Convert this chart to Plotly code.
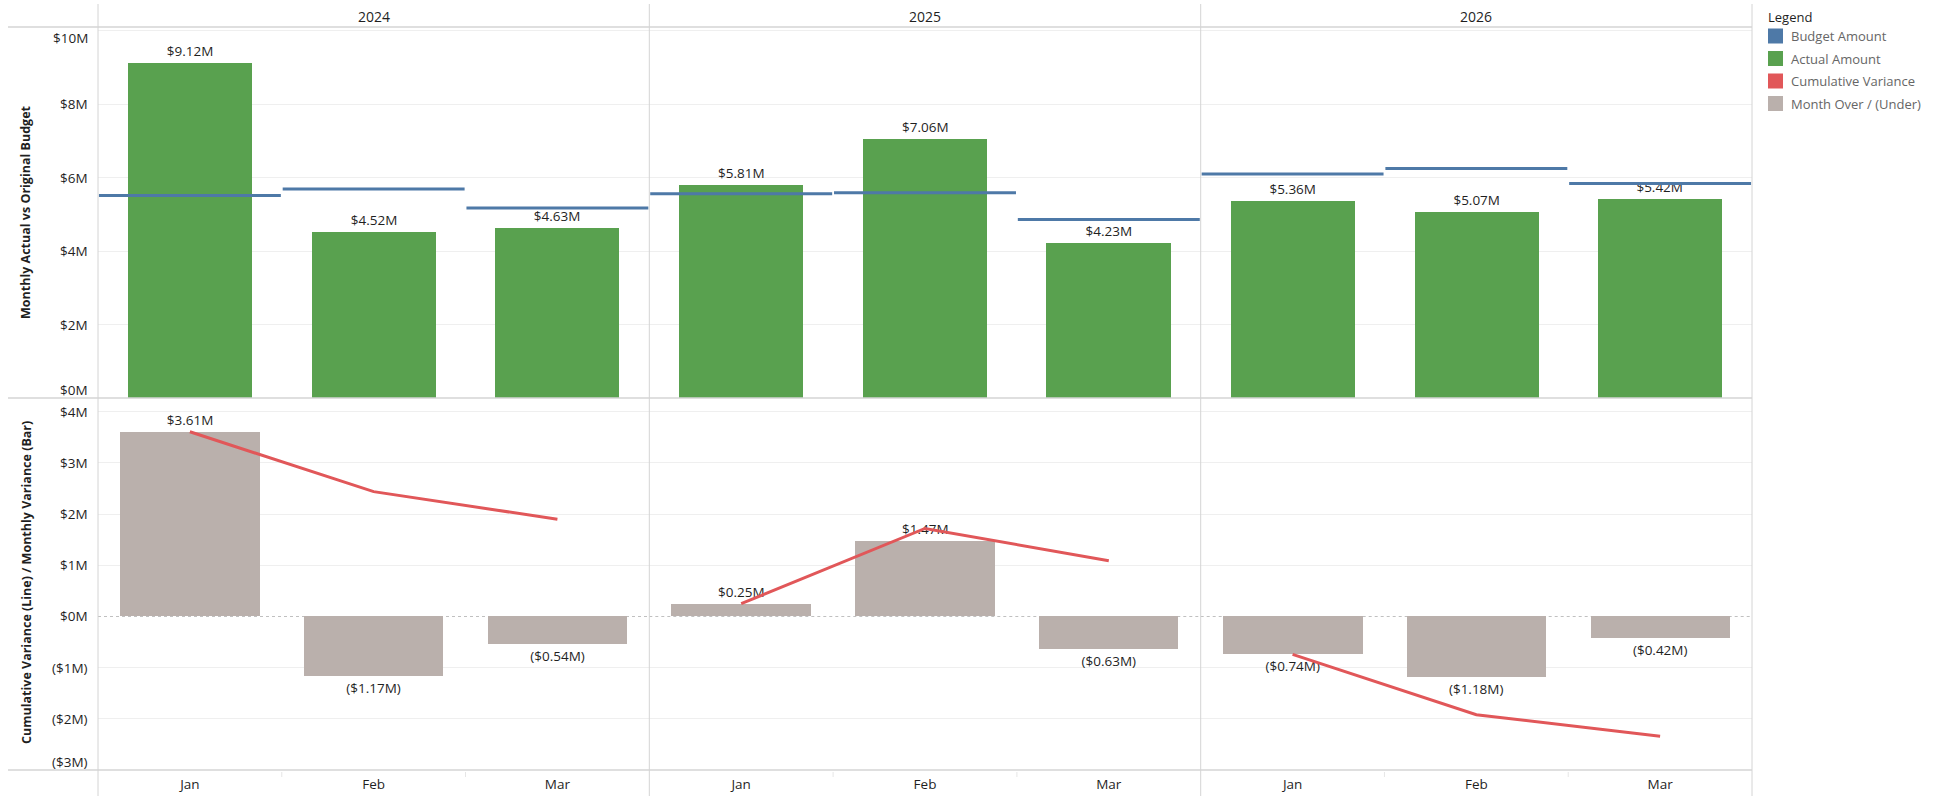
import plotly.graph_objects as go

# ---------------- data (values in $M) ----------------
years = ["2024", "2025", "2026"]
months = ["Jan", "Feb", "Mar"]
actual_amount = [[9.12, 4.52, 4.63], [5.81, 7.06, 4.23], [5.36, 5.07, 5.42]]
budget_amount = [[5.51, 5.69, 5.17], [5.56, 5.59, 4.86], [6.10, 6.25, 5.84]]
monthly_variance = [[3.61, -1.17, -0.54], [0.25, 1.47, -0.63], [-0.74, -1.18, -0.42]]
cumulative_variance = [[3.61, 2.44, 1.90], [0.25, 1.72, 1.09], [-0.74, -1.92, -2.34]]
top_ticks = [0, 2, 4, 6, 8, 10]
top_tick_labels = ["$0M", "$2M", "$4M", "$6M", "$8M", "$10M"]
bot_ticks = [-3, -2, -1, 0, 1, 2, 3, 4]
bot_tick_labels = ["($3M)", "($2M)", "($1M)", "$0M", "$1M", "$2M", "$3M", "$4M"]
legend_labels = ["Budget Amount", "Actual Amount", "Cumulative Variance", "Month Over / (Under)"]
top_axis_title = "Monthly Actual vs Original Budget"
bot_axis_title = "Cumulative Variance (Line) / Monthly Variance (Bar)"

# ---------------- styling ----------------
C_BUDGET = "#4e79a7"
C_ACTUAL = "#59a14f"
C_CUM = "#e15759"
C_VAR = "#bab0ac"
legend_colors = [C_BUDGET, C_ACTUAL, C_CUM, C_VAR]
FONT = "Open Sans, Lato, DejaVu Sans, sans-serif"
TXT = "#1f1f1f"
LINE = "#d4d4d4"
FS = 13.5
W, H = 1946, 796
col_edges = [98, 649.3, 1200.7, 1752]
top_px = (27, 398)
bot_px = (398, 770)
top_range = [0, 10.1]
bot_range = [-3.0, 4.27]


def fx(x):
    return x / W


def fy(y):
    return 1 - y / H


def money(v):
    s = "${:.2f}M".format(abs(v))
    return "(" + s + ")" if v < 0 else s


fig = go.Figure()
layout = {}
shapes = []
annotations = []

for c in range(3):
    for r in range(2):
        n = r * 3 + c + 1
        sfx = "" if n == 1 else str(n)
        xref, yref = "x" + sfx, "y" + sfx
        layout["xaxis" + sfx] = dict(
            domain=[fx(col_edges[c]), fx(col_edges[c + 1])], range=[-0.5, 2.5],
            anchor=yref, showgrid=False, zeroline=False, showline=False,
            tickvals=list(range(len(months))), ticktext=months,
            showticklabels=(r == 1), ticks="", ticklabelstandoff=4,
            tickfont=dict(family=FONT, size=FS, color=TXT), fixedrange=True)
        if r == 0:
            grid = [v for v in top_ticks if v != 0]
            rng, dom = top_range, top_px
        else:
            grid = [v for v in bot_ticks if v not in (0, bot_ticks[0])]
            rng, dom = bot_range, bot_px
        layout["yaxis" + sfx] = dict(
            domain=[fy(dom[1]), fy(dom[0])], range=rng, anchor=xref,
            showgrid=True, gridcolor="#efefef", gridwidth=1, tickvals=grid,
            showticklabels=False, zeroline=False, showline=False, ticks="",
            fixedrange=True)

        if r == 0:
            fig.add_trace(go.Bar(
                x=list(range(len(months))), y=actual_amount[c], width=0.675,
                marker=dict(color=C_ACTUAL, line=dict(width=0)),
                text=[money(v) for v in actual_amount[c]], textposition="outside",
                textfont=dict(family=FONT, size=FS, color=TXT), constraintext="none",
                cliponaxis=False, xaxis=xref, yaxis=yref, showlegend=False,
                hoverinfo="skip"))
            bx, by = [], []
            for i, v in enumerate(budget_amount[c]):
                bx += [i - 0.495, i + 0.495, None]
                by += [v, v, None]
            fig.add_trace(go.Scatter(
                x=bx, y=by, mode="lines", line=dict(color=C_BUDGET, width=3),
                xaxis=xref, yaxis=yref, showlegend=False, hoverinfo="skip"))
        else:
            shapes.append(dict(type="line", xref=xref + " domain", yref=yref,
                               x0=0, x1=1, y0=0, y1=0,
                               line=dict(color="#c0c0c0", width=1, dash="dot"),
                               layer="below"))
            fig.add_trace(go.Bar(
                x=list(range(len(months))), y=monthly_variance[c], width=0.76,
                marker=dict(color=C_VAR, line=dict(width=0)),
                text=[money(v) for v in monthly_variance[c]], textposition="outside",
                textfont=dict(family=FONT, size=FS, color=TXT), constraintext="none",
                cliponaxis=False, xaxis=xref, yaxis=yref, showlegend=False,
                hoverinfo="skip"))
            fig.add_trace(go.Scatter(
                x=list(range(len(months))), y=cumulative_variance[c], mode="lines",
                line=dict(color=C_CUM, width=3), xaxis=xref, yaxis=yref,
                showlegend=False, hoverinfo="skip"))

    # year header
    annotations.append(dict(
        text=years[c], xref="paper", yref="paper",
        x=fx((col_edges[c] + col_edges[c + 1]) / 2), y=fy(17),
        xanchor="center", yanchor="middle", showarrow=False,
        font=dict(family=FONT, size=14, color=TXT)))
    # small separators between months in the bottom header
    for k in range(1, len(months)):
        xpix = col_edges[c] + (col_edges[c + 1] - col_edges[c]) * k / len(months)
        shapes.append(dict(type="line", xref="paper", yref="paper",
                           x0=fx(xpix), x1=fx(xpix), y0=fy(772), y1=fy(777),
                           line=dict(color="#e6e6e6", width=1)))

# y tick labels (as annotations so the edge labels can stay inside)
for vals, labs, yref, rng in [(top_ticks, top_tick_labels, "y", top_range),
                              (bot_ticks, bot_tick_labels, "y4", bot_range)]:
    for v, t in zip(vals, labs):
        shift = 0
        if v == rng[0]:
            shift = 8
        elif abs(v - rng[1]) < 0.2:
            shift = -7
        annotations.append(dict(
            text=t, xref="paper", yref=yref, x=fx(90), y=v, xanchor="right",
            yanchor="middle", yshift=shift, showarrow=False,
            font=dict(family=FONT, size=FS, color=TXT)))

# axis titles
annotations.append(dict(text="<b>" + top_axis_title + "</b>", xref="paper", yref="paper",
                        x=fx(26), y=fy(212), textangle=-90, showarrow=False,
                        xanchor="center", yanchor="middle",
                        font=dict(family=FONT, size=12.5, color=TXT)))
annotations.append(dict(text="<b>" + bot_axis_title + "</b>", xref="paper", yref="paper",
                        x=fx(26), y=fy(583), textangle=-90, showarrow=False,
                        xanchor="center", yanchor="middle",
                        font=dict(family=FONT, size=12.5, color=TXT)))

# frame lines
for ypix in [27, 398, 770]:
    shapes.append(dict(type="line", xref="paper", yref="paper", x0=fx(8), x1=fx(1752),
                       y0=fy(ypix), y1=fy(ypix), line=dict(color=LINE, width=1.5)))
for xpix in col_edges:
    shapes.append(dict(type="line", xref="paper", yref="paper", x0=fx(xpix), x1=fx(xpix),
                       y0=fy(4), y1=fy(796), line=dict(color=LINE, width=1)))

# legend (manual)
annotations.append(dict(text="Legend", xref="paper", yref="paper", x=fx(1766), y=fy(17),
                        xanchor="left", yanchor="middle", showarrow=False,
                        font=dict(family=FONT, size=13, color=TXT)))
for i, (lab, col) in enumerate(zip(legend_labels, legend_colors)):
    yc = 36 + i * 22.5
    shapes.append(dict(type="rect", xref="paper", yref="paper",
                       x0=fx(1768), x1=fx(1783), y0=fy(yc - 7.5), y1=fy(yc + 7.5),
                       fillcolor=col, line=dict(width=0)))
    annotations.append(dict(text=lab, xref="paper", yref="paper", x=fx(1789), y=fy(yc),
                            xanchor="left", yanchor="middle", showarrow=False,
                            font=dict(family=FONT, size=13, color="#666666")))

fig.update_layout(
    width=W, height=H, margin=dict(l=0, r=0, t=0, b=0),
    paper_bgcolor="white", plot_bgcolor="white", bargap=0,
    shapes=shapes, annotations=annotations, showlegend=False,
    font=dict(family=FONT, color=TXT), **layout)

fig.write_html("out.html", config={"displayModeBar": False},
               post_script="document.body.style.margin='0';document.body.style.overflow='hidden';")
